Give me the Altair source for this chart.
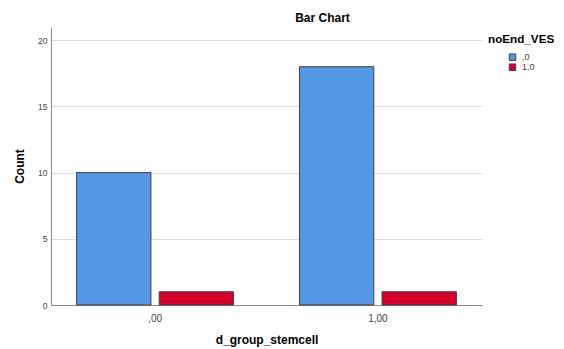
import altair as alt
import pandas as pd

categories = [",00", "1,00"]
series_names = [",0", "1,0"]
counts_0 = [10, 18]
counts_1 = [1, 1]
y_ticks = [0, 5, 10, 15, 20]

rows = []
for i, c in enumerate(categories):
    rows.append({"group": c, "series": series_names[0], "count": counts_0[i]})
    rows.append({"group": c, "series": series_names[1], "count": counts_1[i]})
df = pd.DataFrame(rows)

blue = "#5596e6"
red = "#d3002e"

chart = alt.Chart(df).mark_bar(stroke="#404040", strokeWidth=1).encode(
    x=alt.X(
        "group:N",
        sort=categories,
        scale=alt.Scale(paddingInner=0.296, paddingOuter=0.115),
        axis=alt.Axis(
            title="d_group_stemcell", labelAngle=0, ticks=False, grid=False,
            labelFontSize=10, labelColor="#444444", labelPadding=8,
            titleFontSize=12, titleFontWeight="bold", titleColor="#000000",
            titlePadding=11, domainColor="#888888",
        ),
    ),
    xOffset=alt.XOffset(
        "series:N", sort=series_names,
        scale=alt.Scale(paddingInner=0.1, paddingOuter=0),
    ),
    y=alt.Y(
        "count:Q",
        scale=alt.Scale(domain=[0, 21], nice=False),
        axis=alt.Axis(
            values=y_ticks, title="Count", ticks=False, grid=True,
            gridColor="#dcdcdc", gridWidth=1,
            labelFontSize=8.5, labelColor="#444444", labelPadding=4,
            titleFontSize=12, titleFontWeight="bold", titleColor="#000000",
            titlePadding=11, domainColor="#888888",
        ),
    ),
    color=alt.Color(
        "series:N",
        scale=alt.Scale(domain=series_names, range=[blue, red]),
        legend=alt.Legend(
            title="noEnd_VES", orient="none", legendX=437, legendY=7,
            titleFontSize=11.7, titleFontWeight="bold", titleColor="#000000",
            titlePadding=7, symbolType="square", symbolSize=42,
            symbolStrokeColor="#404040", symbolStrokeWidth=1,
            labelFontSize=9, labelColor="#444444", rowPadding=-1,
            clipHeight=9, symbolOffset=20, labelOffset=5,
        ),
    ),
).properties(
    width=431,
    height=278,
    title=alt.TitleParams(
        "Bar Chart", anchor="middle", frame="group", dx=56, offset=-7,
        baseline="alphabetic", fontSize=12, fontWeight="bold", color="#000000",
    ),
    autosize=alt.AutoSizeParams(type="none"),
    padding={"left": 43, "top": 19, "right": 74, "bottom": 42},
).configure(
    font="Liberation Sans",
).configure_view(
    stroke=None,
)

chart.save("out.html", embed_options={"renderer": "svg", "actions": False})
